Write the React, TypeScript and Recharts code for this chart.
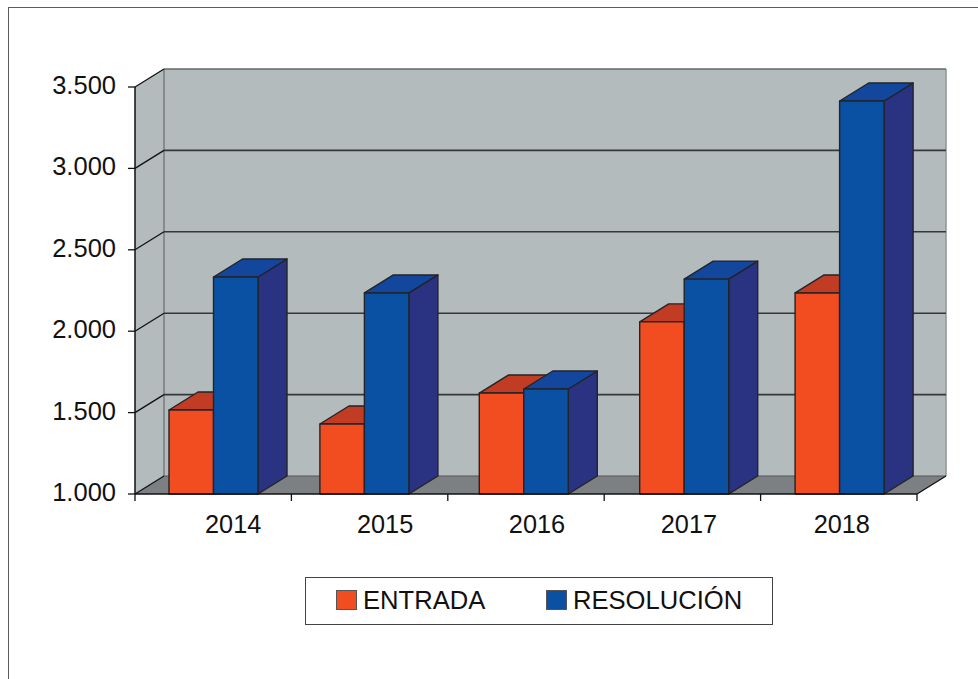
import React from "react";
import { BarChart, Bar, XAxis, YAxis, CartesianGrid, Legend, usePlotArea } from "recharts";

const years = ["2014", "2015", "2016", "2017", "2018"];
const entrada = [1516, 1430, 1620, 2057, 2235];
const resolucion = [2333, 2235, 1645, 2320, 3414];
const yTicks = [1000, 1500, 2000, 2500, 3000, 3500];

const rows = years.map((year, i) => ({ year, ENTRADA: entrada[i], "RESOLUCIÓN": resolucion[i] }));

// Layout nudges: the reference's groups and labels do not sit exactly on band centres.
const groupNudge = [0, -5.5, -2.5, 1.5, 0.5];
const labelNudge = [20, 15.5, 11, 6.5, 3];

const DX = 29;
const DY = -18;
const FONT = "'Liberation Sans', Arial, sans-serif";
const WALL = "#B3BBBC";
const FLOOR = "#7C8082";
const EDGE = "#777C7E";
const INK = "#222428";

function Backdrop() {
  const p = usePlotArea();
  if (!p) return null;
  const { x, y, width: w, height: h } = p;
  const b = y + h;
  const r = x + w;
  return (
    <g>
      <polygon points={`${x},${y} ${x + DX},${y + DY} ${x + DX},${b + DY} ${x},${b}`} fill={WALL} />
      <rect x={x + DX} y={y + DY} width={w} height={h} fill={WALL} />
      <polygon points={`${x},${b} ${x + DX},${b + DY} ${r + DX},${b + DY} ${r},${b}`} fill={FLOOR} />
      <line x1={x + DX} y1={y + DY} x2={x + DX} y2={b + DY} stroke={EDGE} strokeWidth={1.5} />
      <line x1={r + DX} y1={y + DY} x2={r + DX} y2={b + DY} stroke="#8E9496" strokeWidth={1.5} />
      <line x1={x + DX} y1={y + DY} x2={r + DX} y2={y + DY} stroke="#63686A" strokeWidth={1.5} />
      <line x1={x + DX} y1={b + DY} x2={r + DX} y2={b + DY} stroke="#55595B" strokeWidth={1.2} />
    </g>
  );
}

function GridLine(props: any) {
  const { x1, y1, x2, index } = props;
  return (
    <g>
      {index === 0 ? <Backdrop /> : null}
      <line x1={x1} y1={y1} x2={x1 + DX} y2={y1 + DY} stroke="#111" strokeWidth={1.3} />
      {y1 + DY > 80 && y1 < 490 ? (
        <line x1={x1 + DX} y1={y1 + DY} x2={x2 + DX} y2={y1 + DY} stroke="#34383A" strokeWidth={1.6} />
      ) : null}
      {y1 >= 490 ? <line x1={x2} y1={y1} x2={x2 + DX} y2={y1 + DY} stroke="#111" strokeWidth={1.3} /> : null}
    </g>
  );
}

function Box(props: any) {
  const { x, y, width, height, index, fill, topFill, sideFill } = props;
  const s = groupNudge[index] ?? 0;
  const l = x + s;
  const r = l + width;
  const b = y + height;
  return (
    <g stroke={INK} strokeWidth={1.4} strokeLinejoin="round">
      <polygon points={`${r},${y} ${r + DX},${y + DY} ${r + DX},${b + DY} ${r},${b}`} fill={sideFill} />
      <polygon points={`${l},${y} ${l + DX},${y + DY} ${r + DX},${y + DY} ${r},${y}`} fill={topFill} />
      <rect x={l} y={y} width={width} height={height} fill={fill} />
    </g>
  );
}

function YearTick(props: any) {
  const { x, y, payload, index } = props;
  const step = 156.4;
  const top = y - 8;
  const left = x - step / 2;
  return (
    <g>
      <line x1={left} y1={top} x2={left} y2={top + 7} stroke="#111" strokeWidth={1.3} />
      {index === years.length - 1 ? (
        <line x1={left + step} y1={top} x2={left + step} y2={top + 7} stroke="#111" strokeWidth={1.3} />
      ) : null}
      <text x={x + labelNudge[index]} y={top + 39} textAnchor="middle" fontFamily={FONT} fontSize={25.3} fill="#111">
        {payload.value}
      </text>
    </g>
  );
}

function LegendBox(props: any) {
  const items = props.payload || [];
  const lefts = [30, 240];
  return (
    <div style={{ position: "relative", width: 468, height: 48, boxSizing: "border-box", border: "1.4px solid #444", background: "#fff", fontFamily: FONT, fontSize: 25.6, color: "#111" }}>
      {items.map((it: any, i: number) => (
        <div key={it.value} style={{ position: "absolute", left: lefts[i], top: -1, height: 46, display: "flex", alignItems: "center", whiteSpace: "nowrap" }}>
          <span style={{ display: "inline-block", width: 19, height: 18, background: it.color, border: "1px solid #555", marginRight: 6, boxSizing: "content-box" }} />
          <span>{it.value}</span>
        </div>
      ))}
    </div>
  );
}

export default function App() {
  return (
    <div style={{ position: "absolute", left: 0, top: 0, width: 978, height: 679, overflow: "hidden", background: "#fff" }}>
      <div style={{ position: "absolute", left: 8, top: 7, right: -5, bottom: -5, borderTop: "1.5px solid #5c5c5c", borderLeft: "1.5px solid #5c5c5c" }} />
      <BarChart
        width={978}
        height={679}
        data={rows}
        margin={{ top: 87, right: 61, bottom: 97, left: 75 }}
        barSize={44.5}
        barGap={0}
        style={{ position: "absolute", left: 0, top: 0 }}
      >
        <CartesianGrid vertical={false} horizontal={(p: any) => <GridLine key={p.key} {...p} />} />
        <YAxis
          width={60}
          domain={[1000, 3500]}
          ticks={yTicks}
          interval={0}
          tickSize={7}
          tickMargin={12}
          tickFormatter={(v: number) => v.toLocaleString("de-DE")}
          tick={{ fontFamily: FONT, fontSize: 25.5, fill: "#111", dy: -2 }}
          axisLine={{ stroke: "#111", strokeWidth: 1.5 }}
          tickLine={{ stroke: "#111", strokeWidth: 1.3 }}
        />
        <XAxis
          dataKey="year"
          height={40}
          tickLine={false}
          tick={<YearTick />}
          interval={0}
          axisLine={{ stroke: "#111", strokeWidth: 1.5 }}
        />
        <Legend
          content={<LegendBox />}
          wrapperStyle={{ position: "absolute", left: 305, top: 577, width: 468, height: 48, bottom: "auto", right: "auto" }}
        />
        <Bar dataKey="ENTRADA" fill="#F24C21" isAnimationActive={false} shape={(p: any) => <Box {...p} topFill="#C23B23" sideFill="#A83420" />} />
        <Bar dataKey="RESOLUCIÓN" fill="#0A50A3" isAnimationActive={false} shape={(p: any) => <Box {...p} topFill="#13479E" sideFill="#293381" />} />
      </BarChart>
    </div>
  );
}
